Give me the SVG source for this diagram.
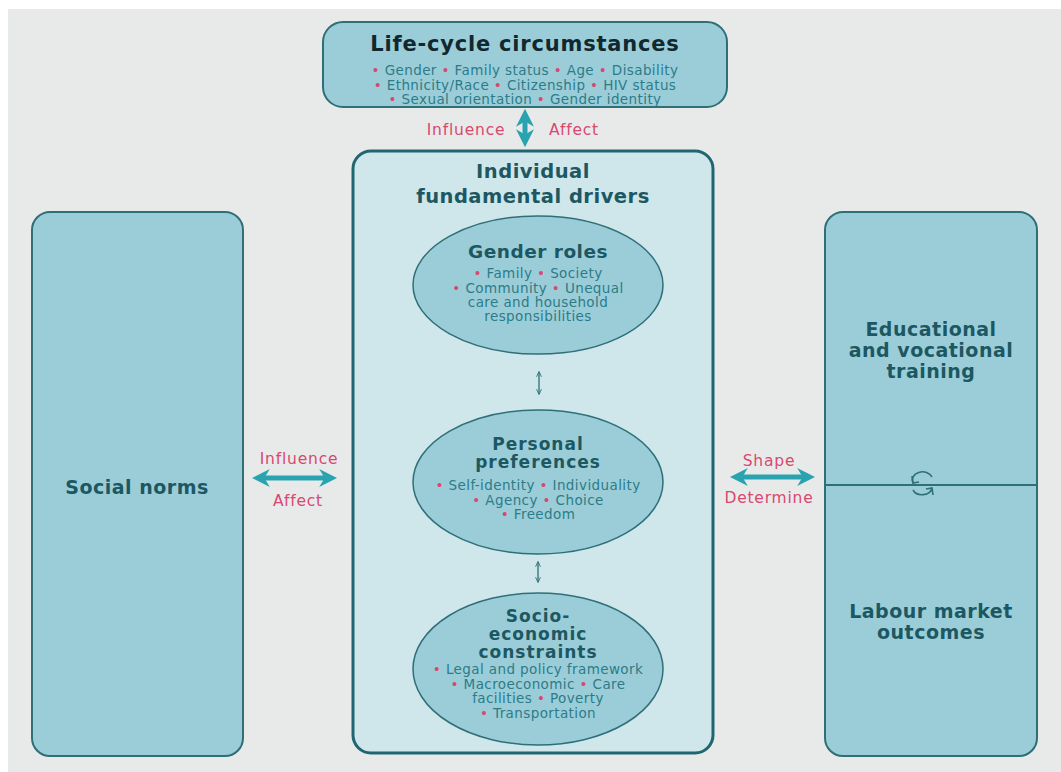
<svg xmlns="http://www.w3.org/2000/svg" width="1061" height="772" viewBox="0 0 1061 772">
<defs>
<style>
.bg{fill:#e8eaea}
.box{fill:#9bcdd8;stroke:#2e6f78;stroke-width:2}
.big{fill:#cfe6eb;stroke:#1f6670;stroke-width:3}
.ell{fill:#9bcdd8;stroke:#2e6f78;stroke-width:1.5}
.t{font-family:"DejaVu Sans","Liberation Sans",sans-serif;font-weight:bold;fill:#1d5862;text-anchor:middle;letter-spacing:0.5px}
.tc{letter-spacing:1px}
.top{font-family:"DejaVu Sans","Liberation Sans",sans-serif;font-weight:bold;fill:#10282e;text-anchor:middle;font-size:21px;letter-spacing:0.8px}
.b{font-family:"DejaVu Sans","Liberation Sans",sans-serif;fill:#2b7c88;text-anchor:middle;font-size:13.5px;letter-spacing:0.4px}
.p{fill:#d8486f}
.lbl{font-family:"DejaVu Sans","Liberation Sans",sans-serif;fill:#d8486f;text-anchor:middle;font-size:15.5px;letter-spacing:0.8px}
.arr{stroke:#2aa3b0;stroke-width:5;fill:none}
.thin{stroke:#2e6f78;stroke-width:1.3;fill:none}
.cyc{fill:none;stroke:#2e6f78;stroke-width:1.6}
</style>
<marker id="ah" viewBox="0 0 10 10" refX="6" refY="5" markerWidth="3.6" markerHeight="4" orient="auto-start-reverse">
<path d="M0,0 L10,5 L0,10 L3,5 z" fill="#2aa3b0"/>
</marker>
<marker id="ahs" viewBox="0 0 10 10" refX="8" refY="5" markerWidth="6" markerHeight="6" orient="auto-start-reverse" markerUnits="userSpaceOnUse">
<path d="M0,1 L9,5 L0,9" fill="none" stroke="#2e6f78" stroke-width="1.5"/>
</marker>
</defs>
<rect width="1061" height="772" fill="#ffffff"/>
<rect class="bg" x="8" y="9" width="1053" height="763"/>

<g id="life-cycle">
<rect class="box" x="323" y="22" width="404" height="85" rx="20"/>
<text class="top" x="525" y="51">Life-cycle circumstances</text>
<text class="b" x="525" y="75"><tspan class="p">•</tspan> Gender <tspan class="p">•</tspan> Family status <tspan class="p">•</tspan> Age <tspan class="p">•</tspan> Disability</text>
<text class="b" x="525" y="90"><tspan class="p">•</tspan> Ethnicity/Race <tspan class="p">•</tspan> Citizenship <tspan class="p">•</tspan> HIV status</text>
<text class="b" x="525" y="104"><tspan class="p">•</tspan> Sexual orientation <tspan class="p">•</tspan> Gender identity</text>
</g>

<g id="social-norms">
<rect class="box" x="32" y="212" width="211" height="544" rx="18"/>
<text class="t" x="137" y="494" font-size="19">Social norms</text>
</g>

<g id="drivers">
<rect class="big" x="353" y="151" width="360" height="602" rx="18"/>
<text class="t" x="533" y="178" font-size="19.5">Individual</text>
<text class="t" x="533" y="203" font-size="19.5">fundamental drivers</text>
</g>

<g id="gender-roles">
<ellipse class="ell" cx="538" cy="285" rx="125" ry="69"/>
<text class="t" x="538" y="258" font-size="18.5">Gender roles</text>
<text class="b" x="538" y="278"><tspan class="p">•</tspan> Family <tspan class="p">•</tspan> Society</text>
<text class="b" x="538" y="293"><tspan class="p">•</tspan> Community <tspan class="p">•</tspan> Unequal</text>
<text class="b" x="538" y="307">care and household</text>
<text class="b" x="538" y="321">responsibilities</text>
</g>

<g id="personal-preferences">
<ellipse class="ell" cx="538" cy="482" rx="125" ry="72"/>
<text class="t tc" x="538" y="450" font-size="17">Personal</text>
<text class="t tc" x="538" y="468" font-size="17">preferences</text>
<text class="b" x="538" y="490"><tspan class="p">•</tspan> Self-identity <tspan class="p">•</tspan> Individuality</text>
<text class="b" x="538" y="505"><tspan class="p">•</tspan> Agency <tspan class="p">•</tspan> Choice</text>
<text class="b" x="538" y="519"><tspan class="p">•</tspan> Freedom</text>
</g>

<g id="socio-economic">
<ellipse class="ell" cx="538" cy="669" rx="125" ry="76"/>
<text class="t tc" x="538" y="622" font-size="17">Socio-</text>
<text class="t tc" x="538" y="640" font-size="17">economic</text>
<text class="t tc" x="538" y="658" font-size="17">constraints</text>
<text class="b" x="538" y="674"><tspan class="p">•</tspan> Legal and policy framework</text>
<text class="b" x="538" y="689"><tspan class="p">•</tspan> Macroeconomic <tspan class="p">•</tspan> Care</text>
<text class="b" x="538" y="703">facilities <tspan class="p">•</tspan> Poverty</text>
<text class="b" x="538" y="718"><tspan class="p">•</tspan> Transportation</text>
</g>

<g id="education-labour">
<rect class="box" x="825" y="212" width="212" height="544" rx="18"/>
<line x1="825" y1="485" x2="1037" y2="485" stroke="#2e6f78" stroke-width="2"/>
<text class="t" x="931" y="336" font-size="19">Educational</text>
<text class="t" x="931" y="357" font-size="19">and vocational</text>
<text class="t" x="931" y="378" font-size="19">training</text>
<text class="t" x="931" y="618" font-size="19">Labour market</text>
<text class="t" x="931" y="639" font-size="19">outcomes</text>
<path class="cyc" d="M932,477 A10,8 0 0 0 913,483"/>
<path class="cyc" d="M912,476 L913,483 L919,482"/>
<path class="cyc" d="M913,490 A10,8 0 0 0 932,488"/>
<path class="cyc" d="M933,495 L932,488 L926,489"/>
</g>

<g id="connectors">
<line class="arr" x1="525" y1="116" x2="525" y2="140" marker-start="url(#ah)" marker-end="url(#ah)"/>
<text class="lbl" x="466" y="135">Influence</text>
<text class="lbl" x="574" y="135">Affect</text>
<line class="arr" x1="259" y1="478" x2="330" y2="478" marker-start="url(#ah)" marker-end="url(#ah)"/>
<text class="lbl" x="299" y="464">Influence</text>
<text class="lbl" x="298" y="506">Affect</text>
<line class="arr" x1="737" y1="477" x2="808" y2="477" marker-start="url(#ah)" marker-end="url(#ah)"/>
<text class="lbl" x="769" y="466">Shape</text>
<text class="lbl" x="769" y="503">Determine</text>
<line class="thin" x1="539" y1="372" x2="539" y2="394" marker-start="url(#ahs)" marker-end="url(#ahs)"/>
<line class="thin" x1="538" y1="562" x2="538" y2="582" marker-start="url(#ahs)" marker-end="url(#ahs)"/>
</g>
</svg>
